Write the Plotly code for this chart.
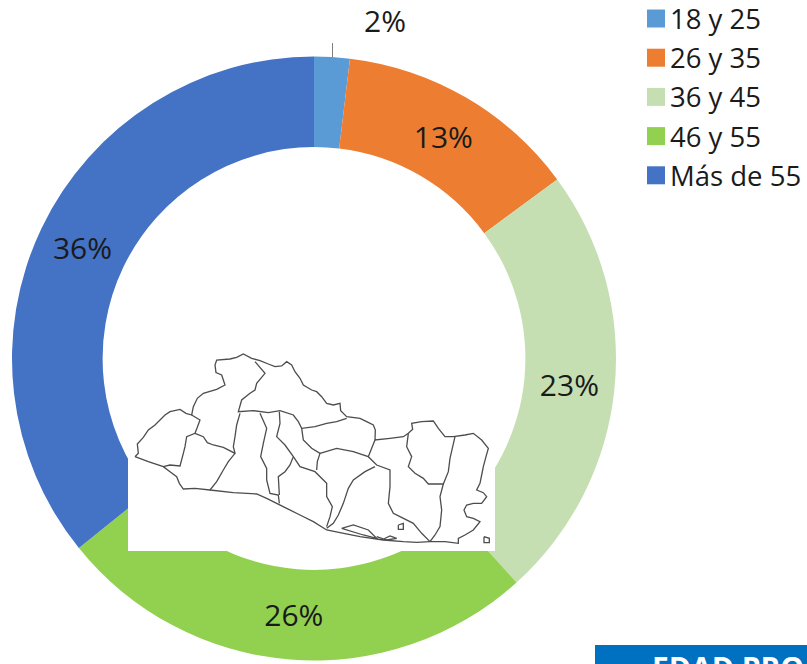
import plotly.graph_objects as go

W, H = 807, 664
categories = ["18 y 25", "26 y 35", "36 y 45", "46 y 55", "Más de 55"]
values = [1.9, 13.0, 23.4, 25.9, 35.8]
colors = ["#5B9BD5", "#ED7D31", "#C5DFB3", "#92D050", "#4472C4"]
banner_text = "EDAD PRO"
FONT = "Open Sans"
TEXT = "#1a1a1a"

# decorative map of El Salvador (traced outline, in crop coordinates)
map_lines = [
    [(45,350),(55,340),(52,312),(70,292),(85,270),(105,255),(120,240),(135,225),(150,215),(180,208),(198,220),(215,225),(220,200),(232,175),(250,160),(290,148),(315,135),(305,105),(288,98),(285,75),(290,60),(330,57),(350,52),(370,42),(395,55),(420,62),(445,72),(465,80),(485,78),(500,65),(515,75),(525,95),(540,115),(550,135),(575,150),(590,155),(605,170),(620,190),(640,195),(660,190),(662,212),(680,230),(720,235),(740,245),(760,255),(766,270),(765,300),(810,295),(850,290),(865,280),(878,268),(875,250),(905,245),(940,243),(955,265),(975,290),(1000,290),(1035,285),(1060,280),(1085,300),(1105,325),(1098,350),(1090,380),(1085,405),(1080,430),(1070,450),(1090,458),(1100,470),(1085,490),(1060,490),(1040,495),(1032,510),(1040,530),(1060,535),(1080,545),(1060,570),(1035,585),(1015,595),(1015,610),(975,605),(930,605),(890,607),(850,605),(790,600),(720,590),(660,578),(620,570),(580,545),(540,525),(500,505),(470,490),(440,475),(410,462),(340,458),(270,450),(225,445),(190,447),(178,430),(170,410),(150,395),(130,380),(85,365),(45,350)],
    [(215,225),(240,240),(232,262),(225,280),(200,290),(195,320),(190,340),(180,378),(150,375),(130,380)],
    [(225,280),(250,290),(262,308),(280,315),(310,322),(345,340),(325,365),(310,390),(290,425),(270,450)],
    [(360,220),(350,255),(345,290),(340,320),(345,340)],
    [(405,65),(435,100),(410,130),(405,150),(390,160),(365,180),(355,215),(400,212),(445,218),(480,212),(520,225),(535,245),(545,265),(585,260),(620,250),(650,245),(680,235)],
    [(420,220),(440,265),(430,310),(422,350),(440,385),(440,420),(450,460),(475,465),(478,490)],
    [(478,215),(480,250),(470,290),(495,315),(520,350),(510,375),(495,395),(475,410),(478,465)],
    [(520,350),(540,380),(585,395),(620,430),(620,470),(637,500),(630,530),(620,560)],
    [(545,265),(550,300),(575,325),(600,340),(592,365),(590,390)],
    [(600,340),(650,325),(700,335),(745,350),(755,325),(765,300)],
    [(745,350),(770,375),(810,390),(810,440),(805,490),(820,520),(840,530),(880,550),(905,580),(930,605)],
    [(765,380),(735,395),(700,420),(685,445),(670,490),(655,525),(640,550),(620,565)],
    [(865,280),(860,320),(875,350),(865,380),(885,400),(910,415),(925,432),(970,432),(985,395),(990,355),(1005,290)],
    [(970,432),(960,470),(965,510),(960,560),(945,585),(930,605)],
    [(665,565),(700,555),(745,570),(770,595),(730,585),(665,565)],
    [(770,590),(800,600),(830,595),(810,588),(785,600)],
    [(835,555),(850,550),(850,568),(835,568),(835,555)],
    [(1092,590),(1108,595),(1108,608),(1092,608),(1092,590)],
]

def px(x): return x / W
def py(y): return 1 - y / H

fig = go.Figure(go.Pie(
    labels=categories, values=values, hole=0.7, sort=False, direction="clockwise", rotation=0,
    marker=dict(colors=colors, line=dict(width=0)),
    text=[""] + [f"{v:.0f}%" for v in values[1:]], textinfo="text", textposition="inside",
    insidetextorientation="horizontal",
    insidetextfont=dict(family=FONT, size=30, color=TEXT),
    domain=dict(x=[px(12), px(616)], y=[py(660.5), py(56.5)]),
    showlegend=False,
))

shapes, annotations = [], []
shapes.append(dict(type="rect", xref="paper", yref="paper", x0=px(128), x1=px(495), y0=py(440), y1=py(551),
                   fillcolor="white", line=dict(width=0)))
for line in map_lines:
    path = "M" + " L".join(f"{px(120 + a / 3):.5f},{py(340 + b / 3):.5f}" for a, b in line)
    shapes.append(dict(type="path", xref="paper", yref="paper", path=path, line=dict(color="#4d4d4d", width=1.3)))

# leader line and outside label for the small slice
shapes.append(dict(type="line", xref="paper", yref="paper", x0=px(332.5), x1=px(332.5), y0=py(43), y1=py(57),
                   line=dict(color="#7F7F7F", width=1)))
annotations.append(dict(xref="paper", yref="paper", x=px(385), y=py(21), text=f"{values[0]:.0f}%", showarrow=False,
                        yanchor="middle", font=dict(family=FONT, size=30, color=TEXT)))

# legend
for i, (c, col) in enumerate(zip(categories, colors)):
    yc = 18.5 + i * 39.2
    shapes.append(dict(type="rect", xref="paper", yref="paper", x0=px(647), x1=px(665), y0=py(yc - 9), y1=py(yc + 9),
                       fillcolor=col, line=dict(width=0)))
    annotations.append(dict(xref="paper", yref="paper", x=px(668), y=py(yc), text=c, showarrow=False,
                            xanchor="left", yanchor="middle", font=dict(family=FONT, size=27.5, color=TEXT)))

# banner, cut by the bottom edge of the picture
shapes.append(dict(type="rect", xref="paper", yref="paper", x0=px(595), x1=px(807), y0=py(664), y1=py(645),
                   fillcolor="#0070C0", line=dict(width=0)))
annotations.append(dict(xref="paper", yref="paper", x=px(650), y=py(644.5), text=f"<b>{banner_text}</b>", showarrow=False,
                        xanchor="left", yanchor="top", font=dict(family=FONT, size=30, color="white")))

fig.update_layout(width=W, height=H, margin=dict(l=0, r=0, t=0, b=0), paper_bgcolor="white",
                  font=dict(family=FONT), shapes=shapes, annotations=annotations)
fig.write_html("out.html", config={"displayModeBar": False},
               post_script="document.body.style.margin='0';document.documentElement.style.overflow='hidden';")
